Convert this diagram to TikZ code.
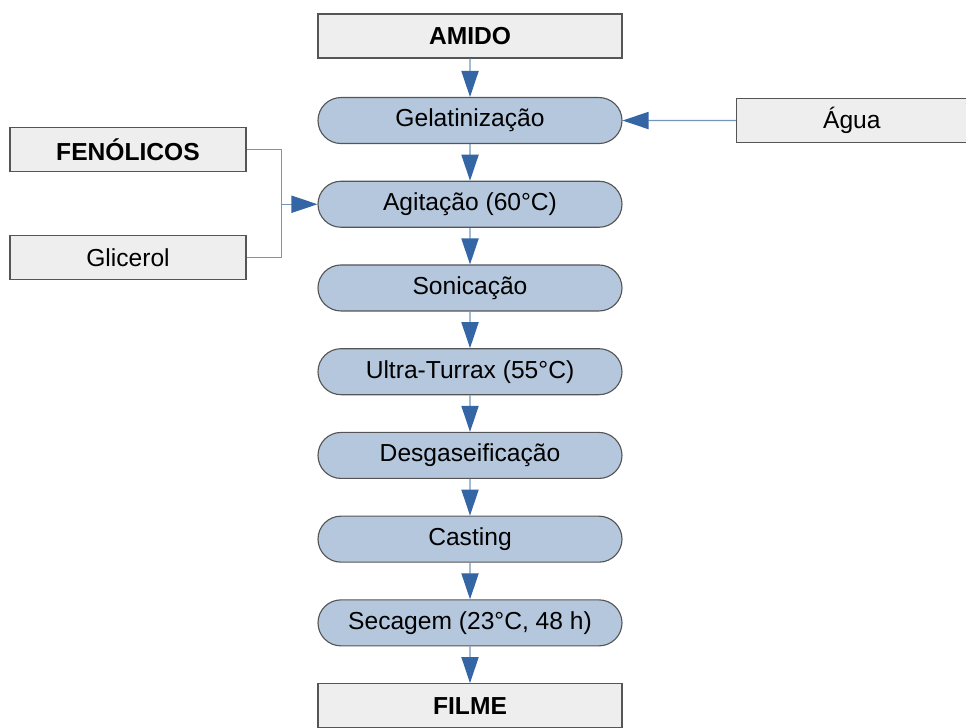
\documentclass[tikz,border=0pt]{standalone}
\usepackage{fontspec}
\setmainfont{Liberation Sans}
\usepackage{tikz}
\usetikzlibrary{arrows.meta, positioning, shapes.misc, calc}
\usepackage{xcolor}
\definecolor{boxgray}{RGB}{238, 238, 238}
\definecolor{edgegray}{RGB}{85, 85, 85}
\definecolor{stepblue}{RGB}{180, 199, 220}
\definecolor{headblue}{RGB}{52, 101, 164}
\definecolor{lineblue}{RGB}{114, 150, 190}

\begin{document}
\begin{tikzpicture}[
      node distance=0.915cm and 2.83cm,
      every node/.style={font=\fontsize{17.5}{20}\selectfont},
      inbox/.style={rectangle, draw=edgegray, line width=0.8pt, fill=boxgray, minimum height=1.1cm, inner sep=0pt, align=center},
      mainbox/.style={inbox, minimum width=7.6cm},
      sidebox/.style={inbox, minimum width=5.9cm},
      stepbox/.style={rounded rectangle, draw=edgegray, line width=0.8pt, fill=stepblue, minimum width=7.6cm, minimum height=1.15cm, inner sep=0pt},
      arr/.style={-{Triangle[length=0.65cm, width=0.43cm, color=headblue]}, draw=lineblue, line width=0.9pt},
      link/.style={draw=lineblue, line width=0.9pt}
    ]
      \useasboundingbox (0,0) rectangle (24.15,-18.175);
      \node[mainbox] (amido) at (11.75,-0.9) {\textbf{AMIDO}};
      \node[stepbox, below=0.96cm of amido] (gel) {Gelatinização};
      \node[stepbox, below=of gel] (agit) {Agitação (60°C)};
      \node[stepbox, below=of agit] (sonic) {Sonicação};
      \node[stepbox, below=of sonic] (turrax) {Ultra-Turrax (55°C)};
      \node[stepbox, below=of turrax] (desg) {Desgaseificação};
      \node[stepbox, below=of desg] (cast) {Casting};
      \node[stepbox, below=of cast] (sec) {Secagem (23°C, 48 h)};
      \node[mainbox, below=of sec] (filme) {\textbf{FILME}};
      \node[inbox, minimum width=5.775cm, right=of gel] (agua) {Água};
      \node[sidebox] (fen) at (3.2,-3.74) {\textbf{FENÓLICOS}};
      \node[sidebox, below=1.575cm of fen] (gli) {Glicerol};
      \coordinate (jn) at ($(agit.west)+(-0.9,0)$);

      \draw[arr] (amido) -- (gel);
      \draw[arr] (gel) -- (agit);
      \draw[arr] (agit) -- (sonic);
      \draw[arr] (sonic) -- (turrax);
      \draw[arr] (turrax) -- (desg);
      \draw[arr] (desg) -- (cast);
      \draw[arr] (cast) -- (sec);
      \draw[arr] (sec) -- (filme);
      \draw[arr] (agua) -- (gel);
      \draw[link] (fen.east) -| (jn);
      \draw[link] (gli.east) -| (jn);
      \draw[arr] (jn) -- (agit);
    \end{tikzpicture}
\end{document}
